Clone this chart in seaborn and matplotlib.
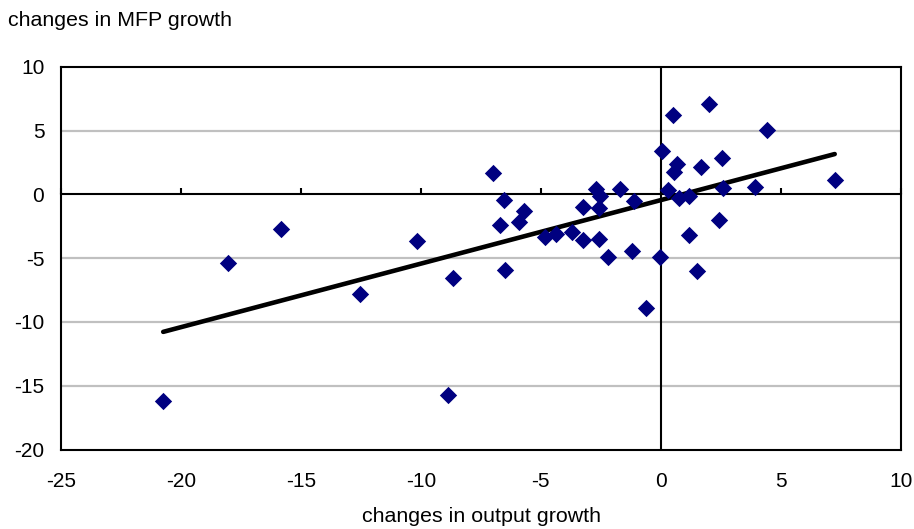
import numpy as np
import pandas as pd
import matplotlib
matplotlib.use("Agg")
import matplotlib.pyplot as plt
import seaborn as sns

# Changes in output growth (x) against changes in MFP growth (y)
output_growth = [
    -20.74, -18.05, -15.83, -12.54, -10.15, -8.67, -8.89,
    -6.99, -6.54, -5.69, -6.71, -5.92, -6.50,
    -4.83, -4.36, -3.70, -3.25, -3.26,
    -2.68, -2.54, -2.57, -2.57, -1.70, -1.11, -2.20, -1.21,
    -0.04, -0.63,
    0.07, 0.51, 2.00, 4.43, 0.69, 0.53, 1.68, 2.57, 2.60, 3.92, 7.25,
    0.30, 0.76, 1.16, 2.42, 1.16, 1.53,
]
mfp_growth = [
    -16.20, -5.40, -2.75, -7.78, -3.64, -6.55, -15.70,
    1.70, -0.47, -1.28, -2.43, -2.17, -5.91,
    -3.33, -3.12, -2.96, -0.97, -3.61,
    0.45, -0.13, -1.05, -3.48, 0.39, -0.56, -4.90, -4.45,
    -4.90, -8.93,
    3.40, 6.22, 7.10, 5.07, 2.35, 1.75, 2.14, 2.87, 0.52, 0.57, 1.10,
    0.31, -0.27, -0.13, -2.02, -3.17, -6.02,
]
x_ticks = [-25, -20, -15, -10, -5, 0, 5, 10]
y_ticks = [-20, -15, -10, -5, 0, 5, 10]

df = pd.DataFrame({"output": output_growth, "mfp": mfp_growth})

sns.set_theme(style="white")
plt.rcParams["font.family"] = ["Liberation Sans", "DejaVu Sans"]

fig = plt.figure(figsize=(9.14, 5.29), dpi=100)
ax = fig.add_axes([61 / 914, 1 - 449.5 / 529, (900.7 - 61) / 914, (449.5 - 66.7) / 529])

# light horizontal gridlines
for yv in y_ticks:
    if yv not in (-20, 0, 10):
        ax.axhline(yv, color="#c0c0c0", lw=1.6, zorder=0)

# vertical zero line
ax.axvline(0, color="black", lw=1.5, zorder=1)

sns.regplot(data=df, x="output", y="mfp", scatter=False, ci=None, ax=ax,
            line_kws={"color": "black", "lw": 3.3, "solid_capstyle": "round", "zorder": 3})
sns.scatterplot(data=df, x="output", y="mfp", marker="D", s=78, color="#000080",
                linewidth=0, ax=ax, zorder=4)

ax.set_xlim(-25, 10)
ax.set_ylim(-20, 10)
ax.set_xticks(x_ticks)
ax.set_yticks(y_ticks)
ax.set_xticklabels([str(v) for v in x_ticks])
ax.set_yticklabels([str(v) for v in y_ticks])
ax.tick_params(axis="both", length=0, labelsize=15, colors="black")
ax.tick_params(axis="x", pad=16)
ax.tick_params(axis="y", pad=12)
ax.set_xlabel("")
ax.set_ylabel("")
for sp in ax.spines.values():
    sp.set_visible(True)
    sp.set_color("black")
    sp.set_linewidth(1.5)

# horizontal axis crossing at y = 0 with upward tick marks
zero_pos = (0 - (-20)) / (10 - (-20))
sec = ax.secondary_xaxis(zero_pos)
sec.set_xticks(x_ticks)
sec.tick_params(direction="out", length=4, width=1.5, color="black",
                labeltop=False, labelbottom=False)
for sp in sec.spines.values():
    sp.set_color("black")
    sp.set_linewidth(1.5)

fig.text(8 / 914, 1 - 26 / 529, "changes in MFP growth", fontsize=15.4,
         ha="left", va="baseline", color="black")
fig.text(481 / 914, 1 - 522 / 529, "changes in output growth", fontsize=15.4,
         ha="center", va="baseline", color="black")

fig.savefig("out.png", dpi=100, facecolor="white")
